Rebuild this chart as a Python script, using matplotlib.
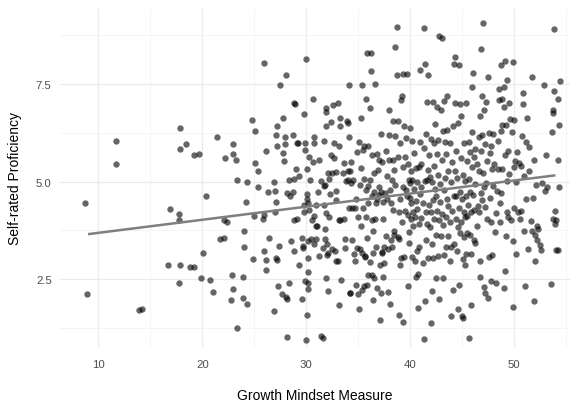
import matplotlib
matplotlib.use("Agg")
import matplotlib.pyplot as plt
import numpy as np

# Growth mindset score and self-rated proficiency for each respondent
growth_mindset = [
    8.7, 8.9, 11.7, 11.7, 13.9, 14.2, 16.7, 16.9, 17.8, 17.8, 17.9, 17.9, 18.4, 17.9, 17.8, 18.8,
    19.2, 19.2, 19.7, 19.9, 20.1, 20.4, 20.7, 21.0, 21.4, 21.7, 22.1, 22.1, 22.4, 22.2, 22.8, 22.9,
    23.0, 23.0, 23.0, 23.2, 23.3, 23.3, 23.9, 23.9, 24.0, 24.0, 24.2, 24.3, 24.3, 24.8, 24.9, 25.1,
    25.1, 25.0, 25.4, 25.4, 25.8, 25.9, 25.9, 25.9, 26.1, 26.1, 26.1, 26.3, 26.4, 26.9, 26.9, 27.0,
    27.0, 27.1, 27.1, 27.1, 27.2, 27.2, 27.2, 27.3, 27.4, 27.5, 27.7, 27.8, 27.9, 27.8, 28.0, 28.0,
    28.1, 28.1, 28.2, 28.2, 28.2, 28.3, 28.3, 28.4, 28.5, 28.7, 28.7, 28.8, 28.8, 28.8, 28.8, 28.9,
    29.0, 29.1, 29.1, 29.2, 29.3, 29.3, 29.6, 29.6, 29.7, 29.7, 29.8, 29.8, 29.8, 29.9, 29.9, 29.9,
    30.0, 30.1, 30.1, 30.0, 30.1, 30.1, 30.2, 30.2, 30.2, 30.2, 30.2, 30.2, 30.4, 30.3, 30.3, 30.5,
    30.6, 30.7, 30.7, 30.8, 30.8, 30.8, 30.8, 30.9, 30.9, 30.9, 31.0, 31.1, 31.2, 31.2, 31.4, 31.6,
    31.4, 31.6, 31.7, 31.7, 31.7, 31.8, 31.8, 31.8, 31.9, 31.9, 31.9, 31.9, 31.9, 32.0, 32.0, 32.1,
    32.1, 32.1, 32.2, 32.2, 32.3, 32.4, 32.4, 32.5, 32.5, 32.6, 32.7, 32.7, 32.8, 32.9, 32.9, 32.9,
    32.9, 33.1, 33.1, 33.2, 33.2, 33.2, 33.3, 33.3, 33.3, 33.4, 33.5, 33.6, 33.6, 33.7, 33.7, 33.8,
    33.9, 34.0, 34.0, 34.0, 34.1, 34.1, 34.1, 34.2, 34.2, 34.2, 34.3, 34.3, 34.4, 34.4, 34.5, 34.6,
    34.7, 34.7, 34.8, 34.8, 34.9, 34.9, 35.0, 35.0, 35.1, 35.1, 35.2, 35.2, 35.3, 35.3, 35.3, 35.4,
    35.4, 35.4, 35.5, 35.5, 35.6, 35.6, 35.6, 35.7, 35.7, 35.8, 35.8, 35.8, 35.9, 35.9, 35.9, 36.0,
    36.0, 36.0, 36.0, 36.1, 36.1, 36.1, 36.2, 36.2, 36.3, 36.3, 36.3, 36.3, 36.4, 36.4, 36.4, 36.5,
    36.5, 36.5, 36.6, 36.6, 36.7, 36.7, 36.8, 36.8, 36.8, 36.9, 37.0, 37.0, 37.0, 37.1, 37.1, 37.2,
    37.2, 37.2, 37.3, 37.3, 37.3, 37.4, 37.4, 37.4, 37.5, 37.5, 37.6, 37.7, 37.7, 37.8, 37.8, 37.9,
    37.9, 38.0, 38.0, 38.0, 38.1, 38.1, 38.2, 38.2, 38.3, 38.3, 38.4, 38.4, 38.4, 38.5, 38.5, 38.5,
    38.6, 38.6, 38.6, 38.7, 38.7, 38.8, 38.8, 38.8, 38.9, 38.9, 38.9, 39.0, 39.0, 39.0, 39.1, 39.1,
    39.2, 39.2, 39.3, 39.3, 39.3, 39.3, 39.4, 39.4, 39.5, 39.5, 39.6, 39.6, 39.7, 39.7, 39.8, 39.8,
    39.8, 39.9, 39.9, 39.9, 40.0, 40.0, 40.0, 40.1, 40.1, 40.1, 40.2, 40.2, 40.2, 40.3, 40.3, 40.4,
    40.4, 40.5, 40.5, 40.6, 40.6, 40.6, 40.7, 40.7, 40.7, 40.8, 40.8, 40.9, 40.9, 40.9, 41.0, 41.0,
    41.0, 41.1, 41.1, 41.1, 41.2, 41.2, 41.3, 41.3, 41.3, 41.4, 41.4, 41.4, 41.5, 41.5, 41.5, 41.6,
    41.6, 41.6, 41.7, 41.7, 41.7, 41.8, 41.8, 41.9, 41.9, 42.0, 42.0, 42.0, 42.1, 42.1, 42.1, 42.2,
    42.2, 42.2, 42.3, 42.3, 42.3, 42.4, 42.4, 42.5, 42.5, 42.5, 42.6, 42.6, 42.6, 42.7, 42.7, 42.7,
    42.8, 42.8, 42.8, 42.9, 42.9, 43.0, 43.0, 43.1, 43.1, 43.1, 43.2, 43.2, 43.2, 43.3, 43.3, 43.3,
    43.4, 43.4, 43.5, 43.5, 43.5, 43.6, 43.6, 43.6, 43.7, 43.7, 43.7, 43.8, 43.8, 43.8, 43.9, 43.9,
    43.9, 44.0, 44.0, 44.1, 44.1, 44.2, 44.2, 44.2, 44.3, 44.3, 44.3, 44.4, 44.4, 44.4, 44.5, 44.5,
    44.6, 44.6, 44.6, 44.7, 44.7, 44.7, 44.8, 44.8, 44.8, 44.9, 44.9, 44.9, 45.0, 45.0, 45.1, 45.1,
    45.1, 45.2, 45.2, 45.2, 45.3, 45.3, 45.3, 45.4, 45.4, 45.4, 45.5, 45.5, 45.5, 45.6, 45.7, 45.7,
    45.7, 45.8, 45.8, 45.8, 45.9, 45.9, 45.9, 46.0, 46.0, 46.0, 46.1, 46.1, 46.2, 46.2, 46.2, 46.3,
    46.3, 46.3, 46.4, 46.4, 46.5, 46.6, 46.6, 46.6, 46.7, 46.7, 46.7, 46.8, 46.8, 46.8, 46.9, 46.9,
    46.9, 47.0, 47.0, 47.1, 47.1, 47.1, 47.2, 47.2, 47.2, 47.3, 47.3, 47.4, 47.4, 47.5, 47.5, 47.6,
    47.6, 47.7, 47.7, 47.8, 47.8, 47.8, 47.9, 47.9, 48.0, 48.0, 48.1, 48.2, 48.3, 48.3, 48.4, 48.5,
    48.5, 48.6, 48.6, 48.7, 48.7, 48.8, 48.8, 48.8, 48.9, 48.9, 48.9, 49.0, 49.0, 49.0, 49.1, 49.1,
    49.1, 49.2, 49.2, 49.3, 49.3, 49.3, 49.4, 49.4, 49.5, 49.5, 49.6, 49.7, 49.8, 49.9, 49.9, 49.9,
    50.0, 50.0, 50.0, 50.1, 50.2, 50.2, 50.3, 50.4, 50.5, 50.6, 50.7, 50.7, 50.8, 50.9, 50.9, 51.0,
    51.0, 51.1, 51.2, 51.2, 51.3, 51.4, 51.5, 51.5, 51.6, 51.7, 51.7, 51.8, 51.9, 51.9, 52.0, 52.0,
    52.1, 52.2, 52.2, 52.3, 52.5, 52.6, 52.7, 52.9, 53.0, 53.1, 53.2, 53.6, 53.7, 53.8, 53.8, 53.8,
    53.9, 53.9, 54.0, 54.0, 54.1, 54.1, 54.2, 54.2, 54.2, 54.3, 54.3, 54.4,
]
self_rated = [
    4.44, 2.12, 6.05, 5.46, 1.71, 1.73, 2.86, 4.29, 4.18, 4.01, 6.38, 5.83, 5.97, 2.86, 2.39, 2.80,
    2.80, 5.68, 5.71, 2.53, 3.18, 4.62, 2.48, 2.16, 6.15, 3.52, 3.56, 4.01, 3.97, 5.59, 1.97, 2.61,
    2.24, 5.70, 5.96, 5.54, 5.03, 1.24, 2.02, 2.56, 3.73, 3.32, 4.47, 5.00, 1.85, 6.57, 3.02, 5.47,
    6.29, 4.12, 4.87, 5.26, 4.03, 3.23, 8.04, 4.15, 5.78, 2.74, 2.99, 4.72, 3.56, 1.69, 4.99, 4.23,
    4.75, 3.05, 4.48, 6.18, 5.91, 6.43, 2.98, 2.32, 3.36, 7.47, 2.12, 5.73, 5.52, 6.62, 5.95, 6.13,
    7.74, 2.04, 1.02, 4.70, 1.98, 2.40, 5.04, 4.62, 3.47, 4.74, 6.19, 5.06, 7.00, 3.21, 4.01, 6.98,
    5.32, 5.99, 4.04, 5.98, 5.15, 2.85, 2.00, 3.55, 3.29, 3.36, 4.41, 4.21, 6.73, 5.99, 5.82, 2.46,
    8.14, 4.67, 5.32, 0.94, 1.57, 4.55, 3.47, 2.68, 2.24, 2.39, 4.45, 3.05, 5.04, 5.62, 4.26, 3.53,
    4.01, 5.50, 7.11, 6.15, 4.11, 5.98, 3.39, 3.53, 4.39, 3.87, 3.85, 4.73, 5.54, 3.09, 1.03, 1.00,
    5.01, 3.29, 4.89, 4.40, 6.03, 3.53, 4.91, 3.79, 6.42, 2.54, 4.19, 6.88, 6.79, 3.40, 3.12, 3.18,
    5.21, 2.20, 4.08, 5.06, 4.68, 5.68, 6.53, 5.21, 3.28, 6.97, 5.98, 5.59, 3.21, 2.96, 5.25, 4.52,
    4.75, 7.01, 2.97, 5.91, 1.84, 4.01, 6.42, 6.63, 4.02, 2.48, 5.23, 5.48, 4.05, 3.29, 3.53, 5.02,
    6.56, 6.50, 5.04, 5.27, 7.46, 6.14, 4.32, 2.15, 2.14, 5.26, 4.95, 5.51, 3.49, 4.32, 5.03, 3.13,
    4.32, 2.96, 2.36, 4.56, 5.76, 3.29, 4.09, 2.11, 6.01, 1.74, 3.28, 4.91, 3.87, 6.62, 5.34, 3.17,
    7.48, 2.21, 5.82, 4.32, 5.91, 5.06, 2.32, 3.06, 3.08, 4.79, 7.11, 4.09, 2.34, 8.30, 3.55, 4.46,
    5.92, 4.89, 2.60, 2.94, 6.88, 5.03, 7.83, 8.30, 5.67, 4.01, 2.60, 4.64, 1.97, 3.16, 3.74, 4.74,
    5.22, 2.54, 7.50, 4.04, 4.44, 3.31, 2.28, 5.70, 4.55, 5.30, 5.56, 4.87, 4.65, 2.85, 1.44, 4.74,
    6.23, 2.14, 3.16, 3.19, 5.51, 4.48, 4.05, 2.55, 3.31, 2.91, 4.71, 3.61, 5.79, 5.15, 4.56, 2.16,
    3.28, 5.55, 6.19, 6.84, 4.78, 1.85, 4.46, 3.49, 3.32, 5.03, 5.56, 6.56, 4.28, 3.74, 3.63, 5.30,
    8.44, 6.16, 4.91, 8.97, 7.72, 3.59, 5.63, 6.55, 4.23, 1.59, 3.53, 2.85, 4.55, 5.98, 7.10, 3.05,
    7.19, 3.97, 5.36, 7.75, 1.40, 4.87, 6.43, 3.06, 4.24, 5.62, 4.79, 6.11, 4.64, 7.75, 4.13, 5.44,
    2.33, 3.42, 5.05, 3.70, 4.58, 6.38, 4.96, 4.03, 5.26, 4.45, 6.03, 3.06, 5.04, 3.86, 4.21, 4.81,
    5.74, 4.09, 2.97, 5.35, 4.50, 2.56, 3.22, 4.99, 4.29, 2.62, 1.75, 3.91, 5.36, 3.32, 4.68, 6.01,
    7.85, 4.87, 4.06, 5.45, 2.92, 4.44, 5.85, 8.93, 0.97, 8.00, 1.94, 5.02, 4.21, 3.50, 6.21, 3.91,
    7.04, 5.03, 5.30, 7.72, 3.03, 4.41, 5.68, 3.83, 5.11, 6.09, 1.38, 4.21, 5.00, 2.20, 3.40, 4.53,
    3.05, 7.04, 5.41, 5.99, 4.03, 4.82, 6.48, 3.64, 2.53, 4.63, 5.71, 6.90, 4.25, 3.08, 5.17, 6.07,
    4.02, 8.74, 2.00, 4.94, 4.48, 3.60, 6.84, 4.17, 8.68, 5.56, 2.52, 6.29, 3.89, 7.06, 4.79, 3.11,
    6.01, 5.09, 4.10, 3.32, 5.71, 7.20, 4.54, 6.33, 3.61, 5.28, 4.37, 2.97, 3.95, 5.99, 1.55, 4.99,
    3.31, 5.50, 4.25, 2.23, 6.41, 4.62, 3.41, 8.02, 5.26, 8.19, 7.01, 4.03, 5.79, 4.64, 3.21, 5.09,
    6.50, 3.83, 1.73, 4.33, 7.99, 2.35, 3.67, 4.73, 6.99, 5.60, 3.96, 6.68, 1.56, 4.56, 3.02, 1.50,
    5.16, 4.21, 3.59, 5.98, 5.01, 2.85, 4.09, 7.00, 4.64, 3.15, 5.52, 3.68, 4.12, 4.40, 6.01, 5.07,
    1.00, 4.73, 5.75, 3.63, 3.15, 1.84, 4.21, 6.28, 7.43, 5.36, 7.79, 4.66, 3.50, 5.62, 4.26, 3.43,
    4.93, 5.83, 3.85, 5.44, 4.38, 6.14, 5.26, 4.23, 2.56, 2.97, 6.68, 4.71, 5.78, 8.40, 4.53, 6.20,
    7.19, 5.22, 9.07, 4.85, 6.84, 2.31, 5.96, 4.34, 2.15, 7.03, 4.97, 5.52, 4.03, 7.68, 2.01, 3.06,
    6.24, 4.57, 5.74, 5.92, 3.97, 2.44, 3.12, 5.32, 4.88, 6.23, 5.45, 3.70, 4.19, 2.40, 4.75, 5.32,
    6.03, 7.09, 7.36, 4.45, 3.97, 6.29, 7.98, 4.70, 7.12, 5.33, 6.45, 7.43, 6.90, 2.27, 5.69, 8.08,
    2.71, 3.61, 6.46, 5.01, 4.21, 7.61, 4.09, 5.79, 7.00, 5.19, 6.60, 4.01, 6.26, 8.06, 1.79, 3.48,
    5.38, 6.58, 4.32, 5.52, 5.00, 3.15, 5.76, 4.21, 5.48, 4.04, 4.25, 5.39, 6.16, 7.27, 6.99, 5.15,
    3.73, 2.33, 6.01, 4.54, 6.62, 3.27, 5.88, 5.26, 4.00, 3.73, 7.69, 4.59, 5.54, 1.95, 3.62, 2.97,
    4.91, 3.50, 3.86, 3.79, 3.38, 3.24, 4.97, 7.46, 4.76, 5.67, 4.87, 2.38, 6.28, 6.84, 6.75, 4.04,
    7.33, 8.90, 4.25, 3.91, 4.01, 3.24, 3.24, 5.54, 7.12, 4.86, 6.44, 7.57,
]

# Linear trend drawn over the observed range of the measure
trend_x_range = [9.0, 54.0]
trend_intercept = 3.35
trend_slope = 0.0335

x_ticks = [10, 20, 30, 40, 50]
y_ticks = [2.5, 5.0, 7.5]

plt.rcParams['font.family'] = ['Liberation Sans', 'DejaVu Sans']

fig = plt.figure(figsize=(5.80, 4.02), dpi=100)
ax = fig.add_axes([60 / 580, 54 / 402, 510 / 580, 338 / 402])

ax.scatter(growth_mindset, self_rated, s=21, color='black', alpha=0.6,
           linewidths=0, zorder=3)

tx = np.array(trend_x_range)
ax.plot(tx, trend_intercept + trend_slope * tx, color='#7f7f7f', lw=1.8,
        solid_capstyle='butt', zorder=4)

ax.set_xlim(6.3, 55.4)
ax.set_ylim(0.76, 9.42)
ax.set_xticks(x_ticks)
ax.set_yticks(y_ticks)
ax.set_yticklabels([f"{v:.1f}" for v in y_ticks])
ax.set_xticks([15, 25, 35, 45, 55], minor=True)
ax.set_yticks([1.25, 3.75, 6.25, 8.75], minor=True)

ax.grid(which='major', color='#ebebeb', lw=0.9)
ax.grid(which='minor', color='#f3f3f3', lw=0.6)
ax.set_axisbelow(True)
for s in ax.spines.values():
    s.set_visible(False)
ax.tick_params(which='both', length=0)
ax.tick_params(axis='x', pad=9, labelsize=8.2, labelcolor='#4d4d4d')
ax.tick_params(axis='y', pad=6, labelsize=8.2, labelcolor='#4d4d4d')

ax.set_xlabel('Growth Mindset Measure', fontsize=10, labelpad=13)
ax.set_ylabel('Self-rated Proficiency', fontsize=10, labelpad=10)

fig.savefig('out.png', dpi=100, facecolor='white')
